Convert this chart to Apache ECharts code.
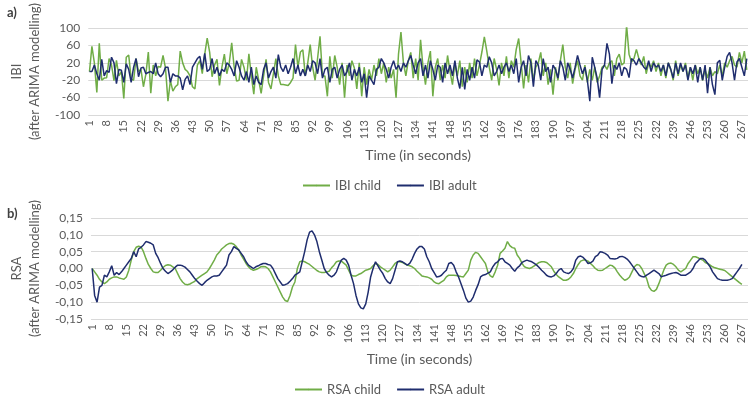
<!DOCTYPE html>
<html lang="en">
<head>
  <meta charset="UTF-8">
  <title>IBI and RSA after ARIMA modelling</title>
  <script src="https://cdn.jsdelivr.net/npm/echarts@6.0.0/dist/echarts.min.js"></script>
  <style>
    * { margin: 0; padding: 0; }
    html, body { width: 100%; height: 100%; background: #fff; }
    #chart { width: 749px; height: 396px; }
  </style>
</head>
<body>
<div id="chart"></div>
<script>
  // seconds on the x axis (1 .. 269)
  var seconds = [];
  for (var s = 1; s <= 269; s++) seconds.push(String(s));

  // panel a) IBI
  var ibiChild = [
    0, 58, 20, -48, 65, -20, -15, -14, 30, 15,
    -21, 26, -10, 0, -62, 33, 38, -17, -20, 30,
    0, 5, -35, -6, 45, -50, 15, -10, 12, 10,
    37, 8, -68, -21, -45, -35, -30, 47, 20, 5,
    0, -10, -35, -40, 15, 25, -5, 40, 77, 45,
    -12, 15, 28, -32, 10, 40, -5, 20, 66, 10,
    -22, -20, 28, 10, -20, 41, -10, -52, 10, -20,
    -50, -10, 28, -25, -40, -5, 30, -10, -30, -30,
    -31, -32, -25, -15, 62, 10, 45, 50, -10, 20,
    62, 10, -20, 30, 81, -10, -10, -57, 35, -15,
    37, 10, -30, 20, -60, 15, -10, 25, 8, -40,
    20, -57, 10, -30, 5, -20, 15, -10, 30, -5,
    20, -25, 10, -15, 5, -60, 40, 91, 20, -10,
    25, 44, -15, 30, -20, 73, 10, -30, 20, 47,
    -57, 10, 30, -20, 15, -15, 37, 0, -30, 20,
    -10, 25, -35, 10, -25, 20, -15, 30, -10, 15,
    45, 80, 47, 10, -20, 30, 5, -32, 20, -10,
    35, -15, 25, 10, 51, 76, 20, -39, 15, -25,
    30, -20, 10, 20, 44, -10, 20, -30, 5, -53,
    10, -20, 25, 62, 10, -15, 20, -28, 5, 25,
    -10, -20, 15, -25, 5, -20, 10, -25, -10, 10,
    15, 5, 20, 25, -10, 30, 40, 15, 20, 106,
    40, 22, 30, 51, 30, 15, 35, -5, 20, 10,
    25, 0, 20, -10, 15, -15, 20, 5, -20, 25,
    -10, 15, 0, 20, -15, 10, -20, 15, -5, 10,
    -20, 5, -15, 10, -10, 0, -5, 15, -10, 20,
    10, 25, 35, 15, 10, 44, 20, 47, 4
  ];
  var ibiAdult = [
    0, 0, 15, -5, -20, 28, -10, 2, -2, 33,
    20, -28, 5, 3, -25, 18, 5, -25, 10, 30,
    -12, 8, 10, -5, -2, 0, -5, 20, -5, -12,
    -5, 10, 10, -25, -5, -10, -10, -15, -42, -18,
    -10, -30, 10, 20, 30, 35, 5, 42, 0, 5,
    30, -5, 10, -10, 5, 0, 20, 15, 5, -10,
    25, 10, -10, -20, 0, -25, 10, -30, -10, -25,
    -30, 5, 20, -15, 0, 10, -15, 39, 10, 0,
    15, -5, 10, 30, -5, 15, -10, 5, -10, 15,
    0, 25, 20, -5, 30, -15, 5, 10, -25, 5,
    10, -15, 5, 15, -10, 0, 20, -20, 5, -10,
    10, -25, -5, -60, -10, -20, -30, 5, 10, 30,
    20, 5, -15, 10, 25, 5, 15, 0, 20, 10,
    25, 37, 15, -5, 20, 30, -10, 15, -15, 25,
    5, -20, 15, 10, -25, 20, -5, 15, -10, 25,
    -15, -39, 10, -41, 5, -20, 10, -15, 27, 22,
    -10, 15, 10, 34, 20, -10, 0, 15, -5, 10,
    20, 0, 15, -5, 30, -25, 10, 25, -10, 37,
    20, -35, 25, 15, -20, 30, 0, 10, -25, 15,
    5, -15, 25, 10, -20, 20, 5, -15, 10, 37,
    15, -5, 10, -20, -68, 33, 10, -15, -60, 5,
    15, 65, 40, -28, 15, 5, 20, -10, 10, 5,
    -14, 30, 25, 15, 30, 20, 10, 5, 25, 0,
    20, 10, 15, 0, 15, -10, 20, 5, -15, 20,
    -5, 20, 0, 15, -20, 10, -5, 15, -25, 10,
    -20, 15, -50, 10, -30, -53, 20, 26, -20, 10,
    35, 44, 20, -20, 22, 30, 10, -10, 30
  ];

  // panel b) RSA
  var rsaChild = [
    0, -0.01, -0.02, -0.032, -0.04, -0.045, -0.04, -0.032, -0.028, -0.025,
    -0.025, -0.028, -0.03, -0.032, -0.025, -0.005, 0.025, 0.05, 0.063, 0.066,
    0.064, 0.05, 0.03, 0.012, 0, -0.01, -0.012, -0.012, -0.005, 0.003,
    0.009, 0.011, 0.01, 0.005, 0, -0.015, -0.03, -0.04, -0.047, -0.048,
    -0.046, -0.042, -0.038, -0.03, -0.025, -0.02, -0.015, -0.01, 0, 0.012,
    0.025, 0.04, 0.048, 0.058, 0.064, 0.07, 0.074, 0.075, 0.072, 0.065,
    0.055, 0.04, 0.028, 0.015, 0.005, -0.002, -0.005, -0.003, 0, 0.005,
    0.006, 0.005, 0, -0.01, -0.025, -0.04, -0.055, -0.07, -0.085, -0.095,
    -0.098, -0.08, -0.055, -0.04, 0, 0.02, 0.022, 0.02, 0.016, 0.012,
    0.006, 0, -0.006, -0.01, -0.012, -0.012, -0.01, -0.008, 0.002, 0.01,
    0.02, 0.022, 0.022, 0.016, 0.01, -0.005, -0.02, -0.022, -0.022, -0.018,
    -0.015, -0.01, -0.005, -0.003, 0, 0.008, 0.015, 0.012, 0.005, 0,
    -0.005, -0.01, -0.005, 0.005, 0.015, 0.02, 0.02, 0.018, 0.014, 0.01,
    0.008, 0.005, 0, -0.008, -0.015, -0.022, -0.024, -0.025, -0.028, -0.032,
    -0.04, -0.044, -0.045, -0.04, -0.035, -0.025, -0.02, -0.02, -0.02, -0.021,
    -0.022, -0.024, -0.025, -0.015, -0.005, 0.025, 0.04, 0.048, 0.045, 0.035,
    0.025, 0.015, -0.01, -0.022, -0.026, -0.01, 0.01, 0.045, 0.052, 0.06,
    0.08, 0.068, 0.062, 0.06, 0.04, 0.03, 0.015, 0.005, 0.002, 0,
    0.003, 0.008, 0.013, 0.018, 0.02, 0.02, 0.018, 0.012, 0.005, -0.008,
    -0.018, -0.025, -0.03, -0.035, -0.035, -0.032, -0.025, -0.015, 0, 0.012,
    0.022, 0.025, 0.025, 0.022, 0.015, 0.008, 0, -0.005, -0.006, -0.005,
    0, 0.005, 0.01, 0.008, 0.002, -0.01, -0.02, -0.028, -0.035, -0.032,
    -0.025, -0.01, 0.005, 0.012, 0.01, 0, -0.015, -0.03, -0.055, -0.065,
    -0.068, -0.062, -0.045, -0.025, -0.005, 0.01, 0.015, 0.016, 0.012, 0.005,
    -0.005, -0.01, -0.005, 0, 0.015, 0.025, 0.035, 0.035, 0.032, 0.028,
    0.025, 0.018, 0.015, 0.01, 0.005, 0.002, 0, -0.002, -0.004, -0.006,
    -0.012, -0.018, -0.024, -0.03, -0.036, -0.042, -0.047
  ];
  var rsaAdult = [
    0, -0.08, -0.1, -0.055, -0.05, -0.02, -0.025, -0.01, 0.008, -0.02,
    -0.012, -0.018, -0.01, 0, 0.01, 0.02, 0.03, 0.05, 0.035, 0.058,
    0.063, 0.07, 0.08, 0.078, 0.075, 0.07, 0.045, 0.032, 0.015, 0,
    -0.008, -0.015, -0.01, -0.004, 0.004, 0.01, 0.01, 0.008, 0.004, -0.003,
    -0.01, -0.02, -0.03, -0.038, -0.045, -0.05, -0.042, -0.035, -0.03, -0.025,
    -0.022, -0.022, -0.02, -0.01, 0, 0.01, 0.04, 0.05, 0.065, 0.06,
    0.055, 0.045, 0.035, 0.02, 0.01, 0.005, 0, 0.005, 0.008, 0.012,
    0.015, 0.015, 0.012, 0.01, 0, -0.015, -0.03, -0.04, -0.05, -0.048,
    -0.045, -0.038, -0.03, -0.02, -0.015, -0.01, 0.02, 0.05, 0.085, 0.108,
    0.112, 0.1, 0.08, 0.05, 0.025, 0, -0.012, -0.02, -0.025, -0.02,
    -0.01, 0.01, 0.025, 0.03, 0.025, 0.01, -0.02, -0.045, -0.08, -0.105,
    -0.117, -0.12, -0.105, -0.07, -0.025, 0, 0.02, 0.008, -0.005, -0.015,
    -0.03, -0.04, -0.045, -0.03, -0.005, 0.02, 0.022, 0.02, 0.015, 0.01,
    0.015, 0.028, 0.045, 0.058, 0.065, 0.065, 0.058, 0.035, 0.02, 0,
    -0.012, -0.025, -0.024, -0.02, -0.012, -0.005, 0.015, 0.018, 0.01, -0.01,
    -0.025, -0.045, -0.065, -0.088, -0.1, -0.097, -0.085, -0.065, -0.048, -0.025,
    -0.02, -0.018, -0.014, -0.01, 0.005, 0.015, 0.02, 0.028, 0.03, 0.02,
    0.015, 0.01, 0, -0.008, 0.002, 0.008, 0.018, 0.022, 0.025, 0.022,
    0.02, 0.015, 0.01, 0.003, -0.005, -0.012, -0.02, -0.024, -0.025, -0.022,
    -0.015, -0.005, 0, -0.01, -0.013, -0.015, -0.01, 0, 0.025, 0.035,
    0.037, 0.033, 0.025, 0.015, 0.017, 0.022, 0.035, 0.04, 0.05, 0.048,
    0.045, 0.04, 0.03, 0.029, 0.028, 0.03, 0.035, 0.036, 0.033, 0.028,
    0.02, 0.01, 0, -0.01, -0.02, -0.024, -0.025, -0.02, -0.015, -0.01,
    -0.005, -0.01, -0.015, -0.025, -0.022, -0.02, -0.017, -0.015, -0.013, -0.012,
    -0.015, -0.02, -0.02, -0.02, -0.015, -0.01, 0, 0.015, 0.022, 0.03,
    0.03, 0.025, 0.015, 0.005, -0.01, -0.02, -0.03, -0.033, -0.035, -0.035,
    -0.035, -0.033, -0.03, -0.02, -0.01, 0, 0.012
  ];

  var GREEN = '#70AD47';
  var NAVY = '#1F2D6E';
  var TXT = '#595959';
  var FONT = 'Lato';

  function xAxisFor(gridIndex) {
    return {
      type: 'category',
      gridIndex: gridIndex,
      data: seconds,
      boundaryGap: true,
      name: 'Time (in seconds)',
      nameLocation: 'middle',
      nameGap: 33,
      nameTextStyle: { color: TXT, fontSize: 14, fontFamily: FONT },
      axisLine: { show: false },
      axisTick: { show: false },
      axisLabel: {
        interval: 6,
        rotate: 90,
        margin: 5,
        color: TXT,
        fontSize: 11,
        fontFamily: FONT
      },
      splitLine: { show: false }
    };
  }

  function yAxisFor(gridIndex, nameText, min, max, step, fmt, gap) {
    return {
      type: 'value',
      gridIndex: gridIndex,
      min: min,
      max: max,
      interval: step,
      name: nameText,
      nameLocation: 'middle',
      nameGap: gap,
      nameTextStyle: { color: TXT, fontSize: 13, lineHeight: 18, fontFamily: FONT },
      axisLine: { show: false },
      axisTick: { show: false },
      axisLabel: { color: TXT, fontSize: 12, margin: 8, fontFamily: FONT, formatter: fmt },
      splitLine: { lineStyle: { color: '#D9D9D9', width: 1 } }
    };
  }

  function lineSeries(name, data, color, idx) {
    return {
      name: name,
      type: 'line',
      xAxisIndex: idx,
      yAxisIndex: idx,
      data: data,
      symbol: 'none',
      smooth: false,
      lineStyle: { color: color, width: 1.5 },
      itemStyle: { color: color }
    };
  }

  var chart = echarts.init(document.getElementById('chart'));
  var option = {
    animation: false,
    backgroundColor: '#fff',
    textStyle: { fontFamily: FONT },
    title: [
      { text: 'a)', left: 2, top: 1, textStyle: { fontSize: 13, fontWeight: 'bold', color: '#404040', fontFamily: FONT } },
      { text: 'b)', left: 2, top: 202, textStyle: { fontSize: 13, fontWeight: 'bold', color: '#404040', fontFamily: FONT } }
    ],
    legend: [
      {
        data: ['IBI child', 'IBI adult'],
        left: 297, top: 174,
        itemWidth: 27, itemHeight: 2, itemGap: 15,
        textStyle: { color: TXT, fontSize: 13, fontFamily: FONT }
      },
      {
        data: ['RSA child', 'RSA adult'],
        left: 289, top: 378,
        itemWidth: 27, itemHeight: 2, itemGap: 15,
        textStyle: { color: TXT, fontSize: 13, fontFamily: FONT }
      }
    ],
    grid: [
      { left: 77, right: 1, top: 22, bottom: 281 },
      { left: 80, right: 1, top: 218, bottom: 77 }
    ],
    xAxis: [xAxisFor(0), xAxisFor(1)],
    yAxis: [
      yAxisFor(0, 'IBI\n(after ARIMA modelling)', -100, 100, 40, null, 36),
      yAxisFor(1, 'RSA\n(after ARIMA modelling)', -0.15, 0.15, 0.05, function (v) {
        return v.toFixed(2).replace('.', ',');
      }, 39)
    ],
    series: [
      lineSeries('IBI child', ibiChild, GREEN, 0),
      lineSeries('IBI adult', ibiAdult, NAVY, 0),
      lineSeries('RSA child', rsaChild, GREEN, 1),
      lineSeries('RSA adult', rsaAdult, NAVY, 1)
    ]
  };
  chart.setOption(option);
</script>
</body>
</html>
